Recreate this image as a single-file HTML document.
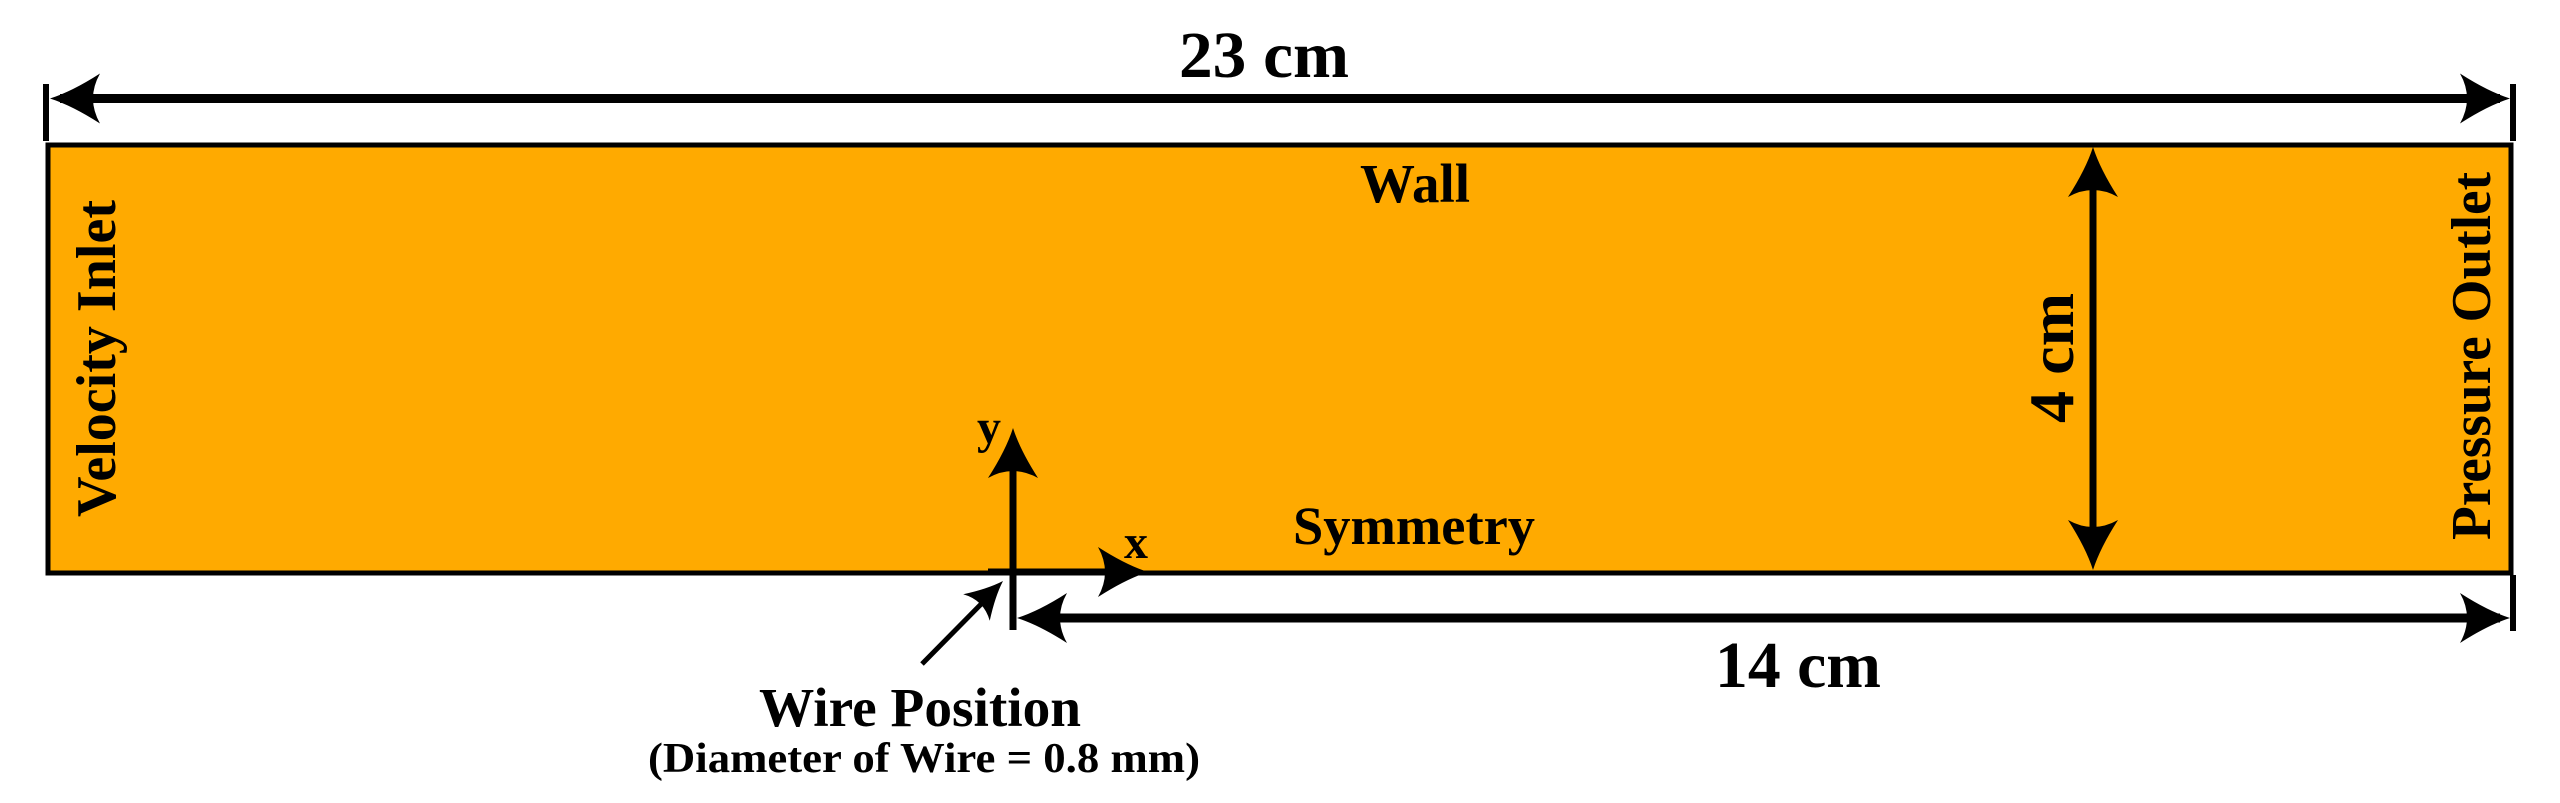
<!DOCTYPE html>
<html><head><meta charset="utf-8"><style>
html,body{margin:0;padding:0;background:#fff;}
svg{display:block;}
text{font-family:"Liberation Serif",serif;font-weight:bold;fill:#000;}
</style></head><body>
<svg width="2560" height="803" viewBox="0 0 2560 803" xmlns="http://www.w3.org/2000/svg">
<defs>
<path id="ah" d="M0,0 Q-22,-7 -50,-25 Q-36,0 -50,25 Q-22,7 0,0 Z" fill="#000"/>
</defs>
<!-- domain -->
<rect x="48" y="145" width="2463" height="428" fill="#FFAA00" stroke="#000" stroke-width="5"/>
<!-- top dimension -->
<line x1="46" y1="84" x2="46" y2="141" stroke="#000" stroke-width="6"/>
<line x1="2513" y1="84" x2="2513" y2="141" stroke="#000" stroke-width="6"/>
<line x1="60" y1="98.5" x2="2500" y2="98.5" stroke="#000" stroke-width="9"/>
<use href="#ah" transform="translate(50,98.5) rotate(180)"/>
<use href="#ah" transform="translate(2510,98.5)"/>
<text x="1179" y="77" font-size="66" textLength="170" lengthAdjust="spacingAndGlyphs">23 cm</text>
<!-- 4 cm -->
<line x1="2093" y1="160" x2="2093" y2="558" stroke="#000" stroke-width="7"/>
<use href="#ah" transform="translate(2093,147) rotate(-90)"/>
<use href="#ah" transform="translate(2093,570) rotate(90)"/>
<text transform="translate(2073,423) rotate(-90)" font-size="64" textLength="130" lengthAdjust="spacingAndGlyphs">4 cm</text>
<!-- labels -->
<text x="1360" y="202" font-size="55" textLength="110" lengthAdjust="spacingAndGlyphs">Wall</text>
<text x="1293" y="544" font-size="54" textLength="242" lengthAdjust="spacingAndGlyphs">Symmetry</text>
<text transform="translate(115,517) rotate(-90)" font-size="56" textLength="317" lengthAdjust="spacingAndGlyphs">Velocity Inlet</text>
<text transform="translate(2490,540) rotate(-90)" font-size="56" textLength="368" lengthAdjust="spacingAndGlyphs">Pressure Outlet</text>
<!-- axes -->
<line x1="1013" y1="440" x2="1013" y2="630" stroke="#000" stroke-width="7"/>
<use href="#ah" transform="translate(1013,428) rotate(-90)"/>
<line x1="988" y1="572" x2="1135" y2="572" stroke="#000" stroke-width="7"/>
<use href="#ah" transform="translate(1148,572)"/>
<text x="977" y="443" font-size="48">y</text>
<text x="1124" y="558" font-size="48">x</text>
<!-- 14 cm -->
<line x1="1030" y1="618" x2="2500" y2="618" stroke="#000" stroke-width="9"/>
<use href="#ah" transform="translate(1017,618) rotate(180)"/>
<use href="#ah" transform="translate(2510,618)"/>
<line x1="2513" y1="575" x2="2513" y2="631" stroke="#000" stroke-width="6"/>
<text x="1715" y="687" font-size="66" textLength="166" lengthAdjust="spacingAndGlyphs">14 cm</text>
<!-- wire arrow -->
<line x1="922" y1="664" x2="995" y2="590" stroke="#000" stroke-width="5"/>
<use href="#ah" transform="translate(1003,581) rotate(-45) scale(0.75)"/>
<text x="759" y="726" font-size="55" textLength="322" lengthAdjust="spacingAndGlyphs">Wire Position</text>
<text x="648" y="772" font-size="42" textLength="552" lengthAdjust="spacingAndGlyphs">(Diameter of Wire = 0.8 mm)</text>
</svg>
</body></html>
